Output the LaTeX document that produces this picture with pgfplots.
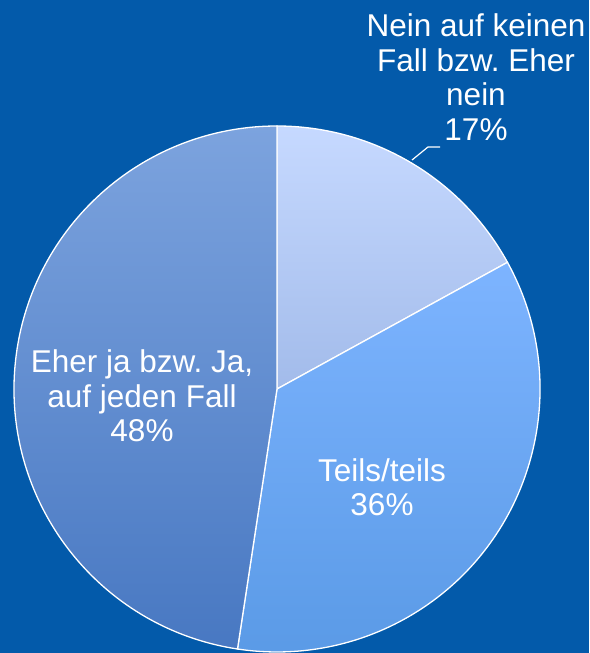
\documentclass[border=0pt]{standalone}
\usepackage{pgfplots}
\usepackage{pgfplotstable}
\pgfplotsset{compat=1.18}
\usepackage{fontspec}
\setmainfont{Liberation Sans}
\frenchspacing

\definecolor{bgblue}{HTML}{035AAA}
\definecolor{aTop}{HTML}{C6D9FF}
\definecolor{aBot}{HTML}{A2BBEA}
\definecolor{bTop}{HTML}{7DB4FF}
\definecolor{bBot}{HTML}{5A9AE6}
\definecolor{cTop}{HTML}{7CA3DE}
\definecolor{cBot}{HTML}{4878C2}

% share of each answer (percent), clockwise from the top
\pgfplotstableread{
answer share
nein   17.0
teils  35.4
ja     47.6
}\piedata

\begin{document}
\begin{tikzpicture}
\begin{axis}[
    hide axis,
    scale only axis,
    width=589pt, height=653pt,
    xmin=0, xmax=589, ymin=0, ymax=653,
    clip=false,
]
\fill[bgblue] (axis cs:0,0) rectangle (axis cs:589,653);

\pgfplotstablegetelem{0}{share}\of\piedata \let\sA\pgfplotsretval
\pgfplotstablegetelem{1}{share}\of\piedata \let\sB\pgfplotsretval
\pgfplotstablegetelem{2}{share}\of\piedata \let\sC\pgfplotsretval
\pgfmathsetmacro{\aA}{90-3.6*\sA}
\pgfmathsetmacro{\aB}{\aA-3.6*\sB}
\pgfmathsetmacro{\aC}{\aB-3.6*\sC}
\def\cx{277}\def\cy{264}\def\r{263}

\path[top color=aTop, bottom color=aBot, draw=white, line width=1.3pt]
  (axis cs:\cx,\cy) -- (axis cs:{\cx+\r*cos(90)},{\cy+\r*sin(90)})
  arc[start angle=90, end angle=\aA, radius=\r pt] -- cycle;
\path[top color=bTop, bottom color=bBot, draw=white, line width=1.3pt]
  (axis cs:\cx,\cy) -- (axis cs:{\cx+\r*cos(\aA)},{\cy+\r*sin(\aA)})
  arc[start angle=\aA, end angle=\aB, radius=\r pt] -- cycle;
\path[top color=cTop, bottom color=cBot, draw=white, line width=1.3pt]
  (axis cs:\cx,\cy) -- (axis cs:{\cx+\r*cos(\aB)},{\cy+\r*sin(\aB)})
  arc[start angle=\aB, end angle=\aC, radius=\r pt] -- cycle;

\draw[white, line width=1.2pt] (axis cs:412,493) -- (axis cs:428,506) -- (axis cs:440,506);

\begin{scope}[every node/.style={text=white, align=center,
    font=\fontsize{31.5}{34.5}\selectfont}]
\node at (axis cs:476,576) {Nein auf keinen\\Fall bzw. Eher\\nein\\17\%};
\node at (axis cs:142,257) {Eher ja bzw. Ja,\\auf jeden Fall\\48\%};
\node at (axis cs:382,166) {Teils/teils\\36\%};
\end{scope}
\end{axis}
\pgfresetboundingbox
\useasboundingbox (current axis.south west) rectangle (current axis.north east);
\end{tikzpicture}
\end{document}
